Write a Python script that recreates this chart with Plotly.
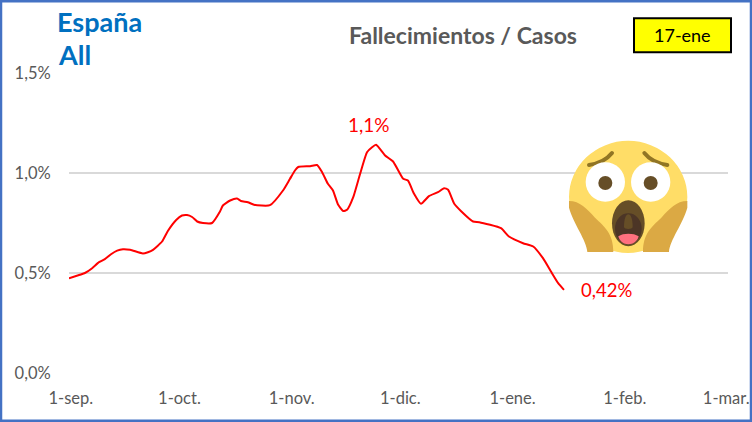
import base64
import pandas as pd
import plotly.graph_objects as go

W, H = 752, 422
START = "2020-09-01"
day_offsets = [0,3,4.4,6.4,8.3,9.9,11.6,13.3,14.9,16.9,20.4,21.8,23.2,25.7,27.3,29.6,31.2,32.6,34,35.4,37,39.5,41.7,42.5,44.5,46.4,47.5,49.4,51.1,55.5,59.1,61,62.4,63.3,66.6,68.5,69.9,71.5,72.9,74.3,75.7,76.8,78.5,80.4,82.3,83.7,84.8,87.3,89.5,92.3,93.6,95.3,97.2,99.4,101.9,103.6,104.7,106.4,108.3,111.6,113.3,119.3,121.5,125.4,128.2,130.9,133.1,135.1,136.7]
ratio_pct = [.473,.491,.50,.524,.554,.569,.594,.612,.619,.616,.5975,.604,.616,.6575,.71,.765,.7875,.79,.78,.7575,.75,.75,.8075,.8375,.8625,.8725,.86,.854,.841,.839,.9125,.97,1.0125,1.03,1.034,1.04,1.004,.946,.9125,.8425,.81,.816,.879,.996,1.104,1.129,1.141,1.0875,1.0575,.971,.9625,.896,.846,.884,.904,.924,.916,.846,.809,.7575,.754,.724,.6825,.649,.6325,.574,.5075,.449,.416]
x_tick_dates = ["2020-09-01","2020-10-01","2020-11-01","2020-12-01","2021-01-01","2021-02-01","2021-03-01"]
x_tick_labels = ["1-sep.","1-oct.","1-nov.","1-dic.","1-ene.","1-feb.","1-mar."]
y_tick_vals = [0, 0.5, 1.0, 1.5]
y_tick_labels = ["0,0%","0,5%","1,0%","1,5%"]

t0 = pd.Timestamp(START) - pd.Timedelta(hours=12)
dates = [t0 + pd.Timedelta(days=d) for d in day_offsets]

L, R, T, B = 69, 728, 72.67, 372.67
FONT = "Lato"
GREY = "#595959"
def px(x): return (x - L) / (R - L)
def py(y): return (B - y) / (B - T)

emoji_svg = """<svg xmlns="http://www.w3.org/2000/svg" width="145" height="130" viewBox="0 0 435 390">
<path d="M42 200 A177 168 0 0 1 397 200 C397 290 310 368 219 368 C128 368 42 290 42 200Z" fill="#FFDD67"/>
<path d="M42 212 C75 212 95 235 120 262 C150 290 175 310 175 365 L97 365 C95 330 55 280 42 232Z" fill="#DBA944"/>
<path d="M397 212 C364 212 344 235 319 262 C289 290 264 310 264 365 L342 365 C344 330 384 280 397 232Z" fill="#DBA944"/>
<path d="M102 104 C130 100 155 88 171 68" stroke="#917524" stroke-width="12" fill="none" stroke-linecap="round"/>
<path d="M337 104 C309 100 284 88 268 68" stroke="#917524" stroke-width="12" fill="none" stroke-linecap="round"/>
<circle cx="151" cy="155" r="59" fill="#fff"/><circle cx="287" cy="155" r="59" fill="#fff"/>
<circle cx="151" cy="158" r="21" fill="#664E27"/><circle cx="287" cy="158" r="21" fill="#664E27"/>
<ellipse cx="220" cy="279" rx="49" ry="69" fill="#664E27"/>
<ellipse cx="220" cy="295" rx="40" ry="46" fill="#4C3526"/>
<path d="M207 290 C207 265 213 252 220 252 C227 252 233 265 233 290 C233 298 207 298 207 290Z" fill="#664E27"/>
<path d="M190 318 C205 308 235 308 251 318 C248 332 235 342 220 342 C205 342 193 332 190 318Z" fill="#FF717F"/>
</svg>"""
emoji_src = "data:image/svg+xml;base64," + base64.b64encode(emoji_svg.encode()).decode()

def label(x, y, text, size, color, anchor="center", bold=False):
    return dict(x=px(x), y=py(y), xref="x domain", yref="y domain", text=f"<b>{text}</b>" if bold else text,
                showarrow=False, xanchor=anchor, yanchor="middle",
                font=dict(family=FONT, size=size, color=color))

fig = go.Figure(go.Scatter(x=dates, y=ratio_pct, mode="lines", hoverinfo="skip",
                           line=dict(color="#FF0000", width=2, shape="spline", smoothing=0.5)))
fig.update_layout(
    width=W, height=H, autosize=False, showlegend=False,
    paper_bgcolor="white", plot_bgcolor="white",
    margin=dict(l=L, r=W - R, t=T, b=H - B, pad=0),
    xaxis=dict(type="date", range=[t0, t0 + pd.Timedelta(days=182)], automargin=False,
               tickmode="array", tickvals=x_tick_dates, ticktext=x_tick_labels,
               showgrid=False, zeroline=False, showline=False, ticks="outside", ticklen=10,
               tickcolor="rgba(0,0,0,0)",
               tickfont=dict(family=FONT, size=16.5, color=GREY)),
    yaxis=dict(range=[0, 1.5], automargin=False, tickmode="array", tickvals=y_tick_vals, ticktext=y_tick_labels,
               showgrid=True, gridcolor="#D9D9D9", gridwidth=1.5, zeroline=False, showline=False,
               ticks="outside", ticklen=14, tickcolor="rgba(0,0,0,0)",
               tickfont=dict(family=FONT, size=16.5, color=GREY)),
    annotations=[
        label(55, 21, "España", 27, "#0070C0", "left", True),
        label(56, 54, "All", 27, "#0070C0", "left", True),
        label(463, 35, "Fallecimientos / Casos", 23, GREY, "center", True),
        label(682.5, 35, "17-ene", 18, "#000000"),
        label(369, 124, "1,1%", 19, "#FF0000"),
        label(606.5, 290, "0,42%", 18.5, "#FF0000"),
    ],
    shapes=[
        dict(type="rect", xref="paper", yref="paper", x0=px(1), x1=px(751), y0=py(1), y1=py(420.5),
             line=dict(color="#4472C4", width=2.5), fillcolor="rgba(0,0,0,0)", layer="above"),
        dict(type="rect", xref="paper", yref="paper", x0=px(634), x1=px(731), y0=py(18), y1=py(52),
             line=dict(color="#000000", width=2), fillcolor="#FFFF00", layer="below"),
    ],
    images=[dict(source=emoji_src, xref="paper", yref="paper", x=px(555), y=py(130),
                 sizex=145 / (R - L), sizey=130 / (B - T), xanchor="left", yanchor="top",
                 sizing="stretch", layer="above")],
)
fig.write_html("out.html", config=dict(displayModeBar=False),
               post_script="document.body.style.margin='0';document.documentElement.style.overflow='hidden';")
